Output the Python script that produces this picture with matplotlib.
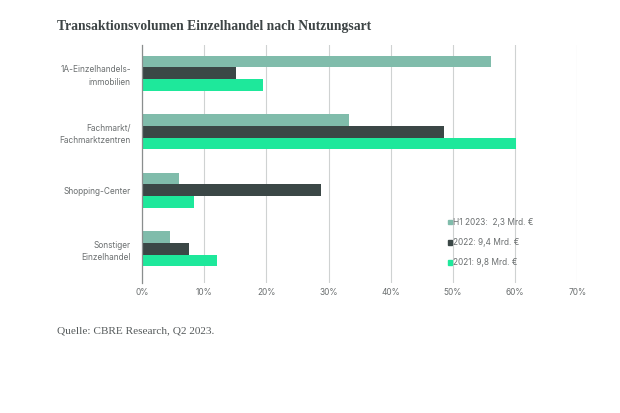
import matplotlib.pyplot as plt
import numpy as np
from matplotlib.patches import Patch

categories = ['1A-Einzelhandels-\nimmobilien', 'Fachmarkt/\nFachmarktzentren',
              'Shopping-Center', 'Sonstiger\nEinzelhandel']
series_names = ['H1 2023:  2,3 Mrd. €', '2022: 9,4 Mrd. €', '2021: 9,8 Mrd. €']
h1_2023 = [56.2, 33.3, 6.0, 4.5]
y2022 = [15.1, 48.5, 28.8, 7.6]
y2021 = [19.5, 60.2, 8.4, 12.1]
ticks = [0, 10, 20, 30, 40, 50, 60, 70]
tick_labels = ['0%', '10%', '20%', '30%', '40%', '50%', '60%', '70%']

colors = ['#80bcab', '#3b4746', '#1ee89b']
text_grey = '#6b6f70'

plt.rcParams['font.family'] = ['Inter', 'DejaVu Sans']

fig = plt.figure(figsize=(6.2, 4.13), dpi=100)
ax = fig.add_axes([0.229, 0.315, 0.702, 0.576])

y = np.arange(len(categories))
h = 0.2
for i, vals in enumerate([h1_2023, y2022, y2021]):
    ax.barh(y + (i - 1) * h, vals, height=h, color=colors[i], label=series_names[i], zorder=3)

ax.set_xlim(0, 70)
ax.set_ylim(3.58, -0.48)
ax.set_xticks(ticks)
ax.set_xticklabels(tick_labels)
ax.set_yticks(y)
ax.set_yticklabels(categories, linespacing=1.5)
ax.tick_params(axis='both', length=0, labelsize=6.0, colors=text_grey)
ax.tick_params(axis='x', pad=4)
ax.tick_params(axis='y', pad=8)
ax.grid(axis='x', color='#cfd2d2', linewidth=0.8, zorder=0)
for s in ['top', 'right', 'bottom']:
    ax.spines[s].set_visible(False)
ax.spines['left'].set_color('#8a8e8e')
ax.spines['left'].set_linewidth(0.9)
ax.spines['left'].set_zorder(4)

handles = [Patch(color=c) for c in colors]
leg = ax.legend(handles, series_names, loc='upper left', bbox_to_anchor=(0.685, 0.305),
                frameon=False, fontsize=6.0, handlelength=0.5, handleheight=0.5,
                handletextpad=0.2, labelspacing=1.35, labelcolor=text_grey)
leg.set_zorder(5)

fig.text(0.092, 0.935, 'Transaktionsvolumen Einzelhandel nach Nutzungsart',
         family='Liberation Serif', weight='bold', fontsize=9.8, color='#3d4445', va='center')
fig.text(0.092, 0.199, 'Quelle: CBRE Research, Q2 2023.',
         family='Liberation Serif', fontsize=8.1, color='#555a5b', va='center')

fig.savefig('out.png', dpi=100, facecolor='white')
